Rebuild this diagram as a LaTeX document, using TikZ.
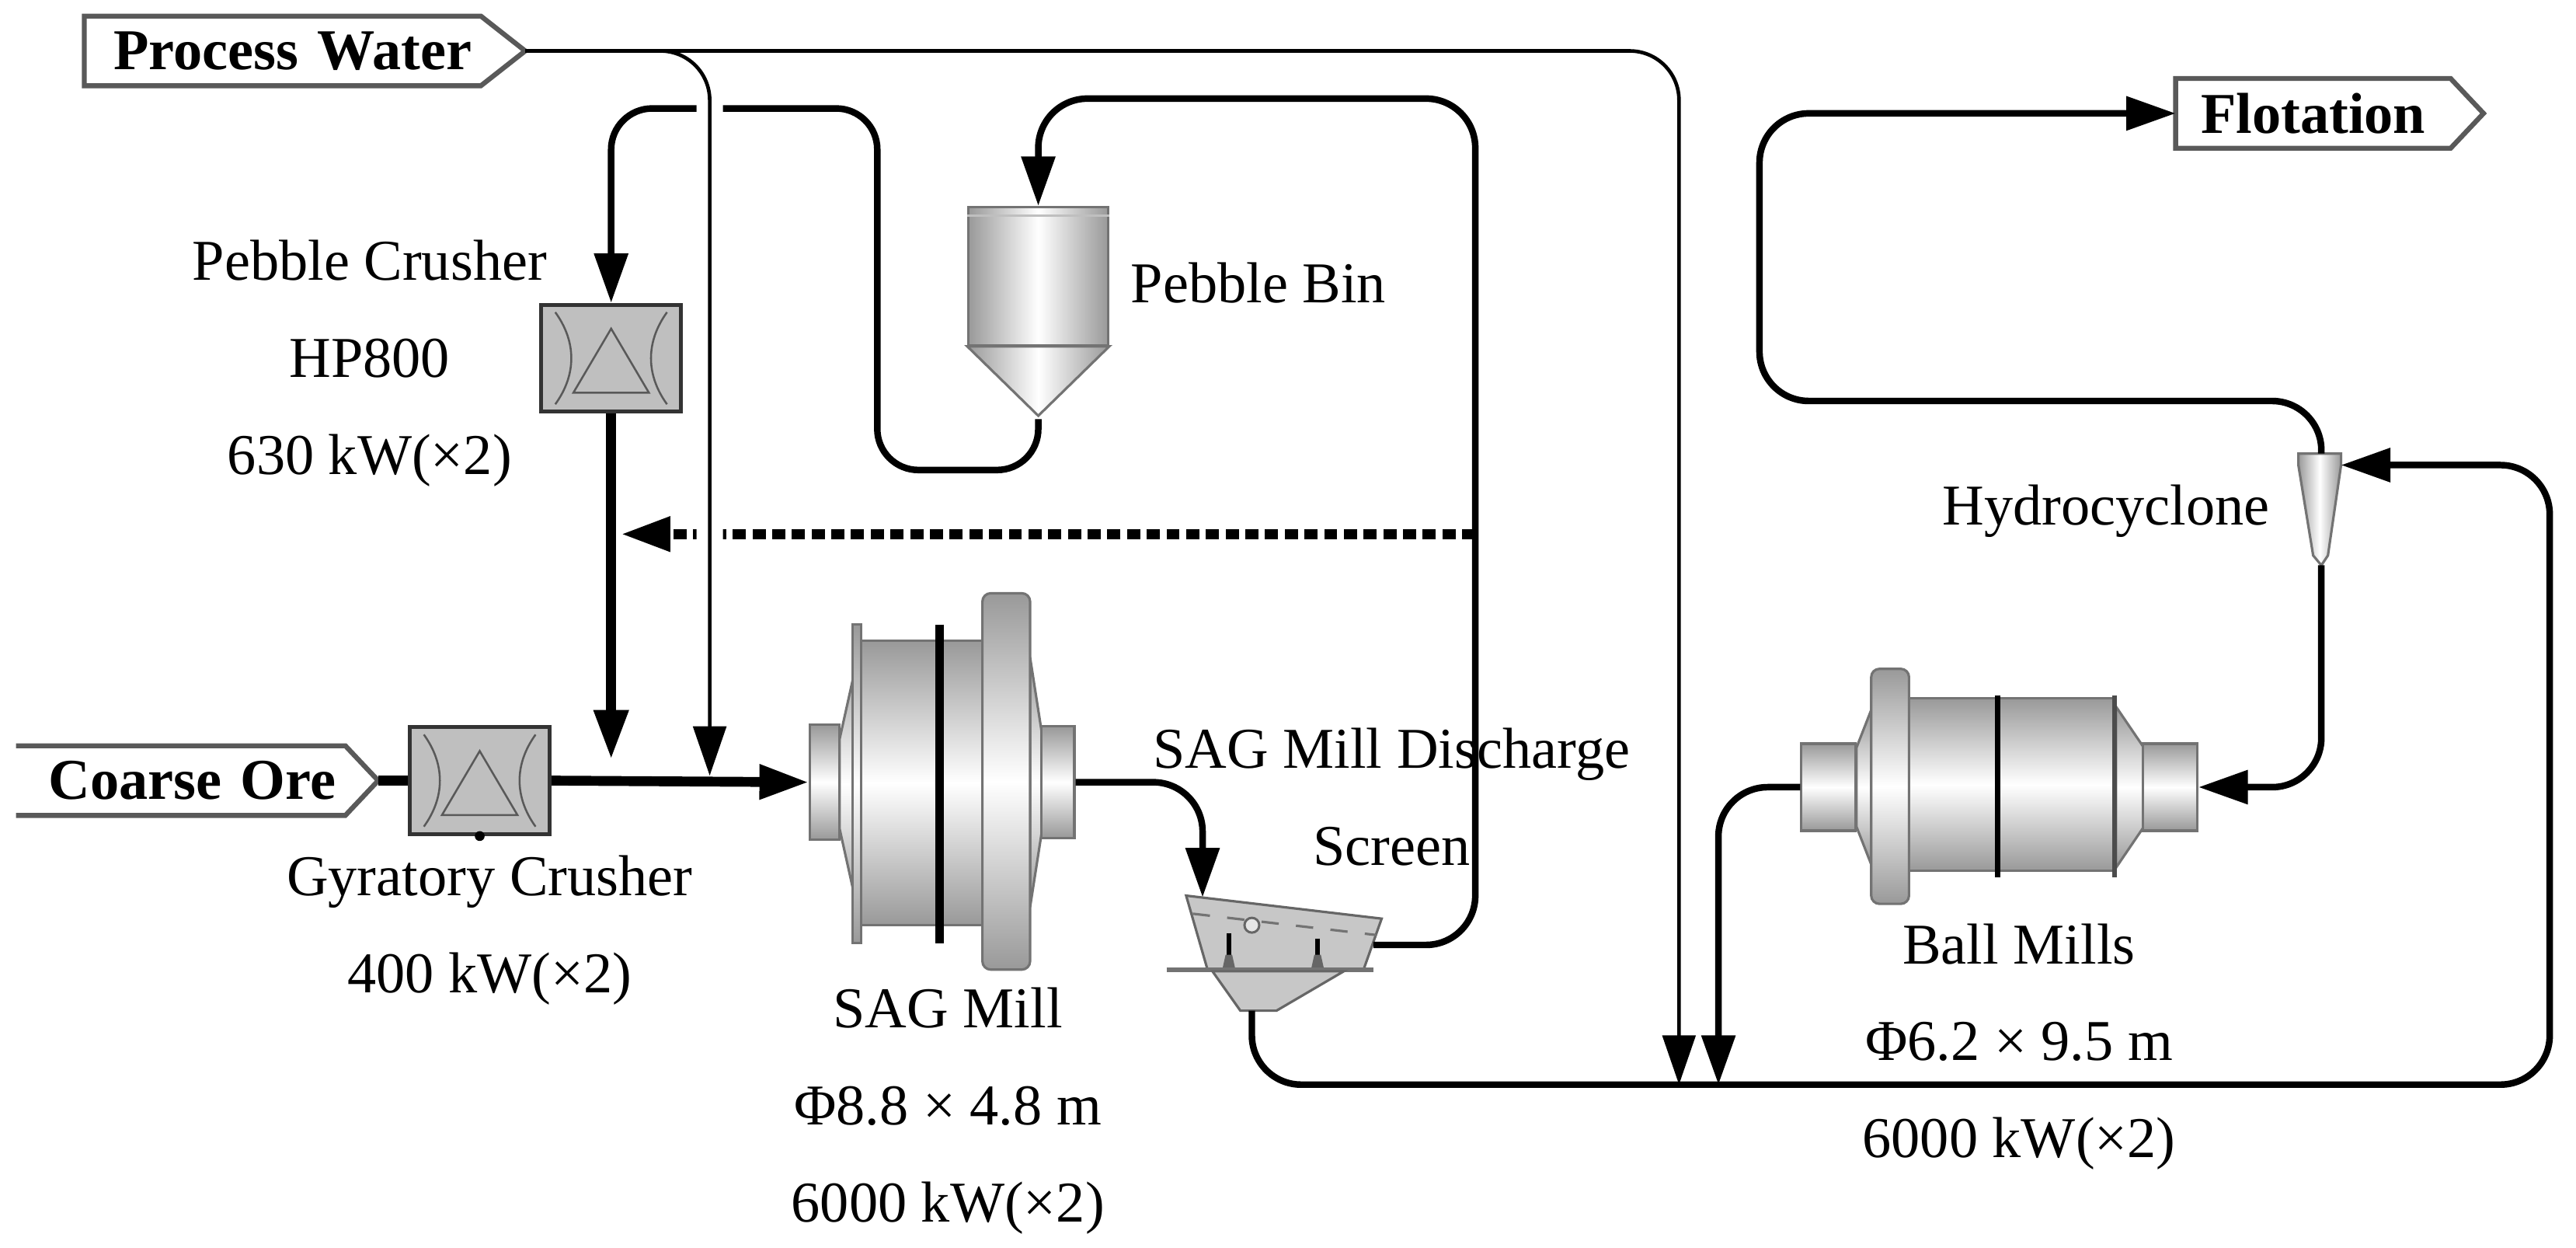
\documentclass[tikz,border=0pt]{standalone}
\usepackage{fontspec}
\setmainfont{Liberation Serif}
\usetikzlibrary{arrows.meta}
\begin{document}
\begin{tikzpicture}[>={Triangle[length=3mm,width=2mm]},x=0.1mm,y=-0.1mm,
	water/.style={line width=0.22mm},
	slurry/.style={line width=0.4mm},
	ore/.style={line width=0.6mm},
	lab/.style={font=\fontsize{10}{16.8}\selectfont,align=center,inner sep=0},
	tagbox/.style={font=\bfseries,minimum height=4.1mm,inner xsep=0.5mm,inner ysep=0},
	tagline/.style={draw=black!65,line width=0.3mm},
	cylh/.style={draw=black!55,line width=0.15mm,top color=black!40,bottom color=black!40,middle color=white},
	cylv/.style={draw=black!55,line width=0.15mm,left color=black!40,right color=black!40,middle color=white},
	crusher/.style={draw=black!80,line width=0.25mm,fill=black!25,minimum width=8.5mm,minimum height=6.5mm,inner sep=0,
		path picture={\begin{scope}[shift={(path picture bounding box.center)}]
			\draw[black!65,line width=0.12mm] (-34,-28) .. controls (-21,-10) and (-21,10) .. (-34,28)
				(34,-28) .. controls (21,-10) and (21,10) .. (34,28)
				(0,-18) -- (-23,21) -- (23,21) -- cycle;
		\end{scope}}}]
	\useasboundingbox (0,0) rectangle (1568,759);
	% feed tags
	\node[tagbox,text width=23mm,align=right] (pw) at (172,31) {Process Water};
	\draw[tagline] (pw.north west) -- (pw.north east) -- ([xshift=2.7mm]pw.east) -- (pw.south east) -- (pw.south west) -- cycle;
	\coordinate (pwtip) at ([xshift=2.7mm]pw.east);
	\node[tagbox,text width=18.9mm,align=right] (co) at (110,475) {Coarse Ore};
	\draw[tagline] (co.north west) -- (co.north east) -- ([xshift=2mm]co.east) -- (co.south east) -- (co.south west);
	\coordinate (cotip) at ([xshift=2mm]co.east);
	\node[tagbox,minimum width=16.6mm] (flo) at (1408,69) {Flotation};
	\draw[tagline] (flo.north west) -- (flo.north east) -- ([xshift=2mm]flo.east) -- (flo.south east) -- (flo.south west) -- cycle;
	% crushers
	\node[crusher] (pcr) at (372,218) {};
	\node[crusher] (gcr) at (292,475) {};
	\fill (gcr.south) circle (0.3mm);
	% pebble bin
	\node[cylv,minimum width=8.5mm,minimum height=8.4mm,inner sep=0] (bin) at (632,168) {};
	\draw[cylv] (bin.south west) -- (632,253) -- (bin.south east) -- cycle;
	\draw[black!25] ([yshift=-0.6mm]bin.north west) -- ([yshift=-0.6mm]bin.north east);
	\coordinate (bintip) at (632,255);
	% SAG mill
	\node[cylh,minimum width=1.8mm,minimum height=7mm,inner sep=0] (sagin) at (502,476) {};
	\draw[cylh] (511,450) -- (523,396) -- (523,558) -- (511,504) -- cycle;
	\draw[cylh] (523,390) rectangle (598,563);
	\draw[cylh] (519,380) rectangle (524,574);
	\draw[line width=0.5mm] (572,380) -- (572,574);
	\draw[cylh] (627,400) -- (634,445) -- (634,507) -- (627,552) -- cycle;
	\draw[cylh,rounded corners=0.5mm] (598,361) rectangle (627,590);
	\node[cylh,minimum width=2mm,minimum height=6.8mm,inner sep=0] (sagout) at (644,476) {};
	% discharge screen
	\draw[fill=black!22,draw=black!60,line width=0.15mm] (722,545) -- (841,559) -- (830,590) -- (735,590) -- cycle;
	\draw[black!55,dashed,line width=0.15mm] (726,556) -- (838,569);
	\draw[black!60,fill=black!10] (762,563) circle (0.45mm);
	\draw[line width=0.3mm] (748,568) -- (748,582) (802,571) -- (802,582);
	\fill[black!60] (744,590) -- (746,581) -- (750,581) -- (752,590) -- cycle;
	\fill[black!60] (798,590) -- (800,581) -- (804,581) -- (806,590) -- cycle;
	\draw[black!55,line width=0.3mm] (710,590) -- (836,590);
	\draw[fill=black!22,draw=black!60,line width=0.15mm] (738,591) -- (818,591) -- (777,615) -- (755,615) -- cycle;
	\coordinate (scrin) at (732,546);
	\coordinate (scrover) at (836,575);
	\coordinate (scrunder) at (762,615);
	% hydrocyclone
	\draw[cylv] (1399,276) -- (1425,276) -- (1425,283) -- (1417,338) -- (1413,344) -- (1408,338) -- (1399,283) -- cycle;
	\coordinate (cyctop) at (1413,276);
	\coordinate (cycbot) at (1413,344);
	\coordinate (cycin) at (1425,283);
	% ball mill
	\node[cylh,minimum width=3.3mm,minimum height=5.3mm,inner sep=0] (bmout) at (1113,479) {};
	\draw[cylh] (1130,455) -- (1139,432) -- (1139,526) -- (1130,503) -- cycle;
	\draw[cylh] (1162,425) rectangle (1288,530);
	\draw[cylh] (1288,430) -- (1305,455) -- (1305,503) -- (1288,528) -- cycle;
	\draw[cylh,rounded corners=0.5mm] (1139,407) rectangle (1162,550);
	\draw[line width=0.35mm] (1216,423) -- (1216,534);
	\draw[black!70,line width=0.3mm] (1287,423) -- (1287,534);
	\node[cylh,minimum width=3.3mm,minimum height=5.3mm,inner sep=0] (bmin) at (1321,479) {};
	% flow lines
	\coordinate (pbtop) at (372,66);
	\coordinate (ovtop) at (898,60);
	\coordinate (dashs) at (898,325);
	\coordinate (dashe) at (378,325);
	\coordinate (feedp) at (372,462);
	\coordinate (pwj) at (401,31);
	\coordinate (feedw) at (432,472);
	\coordinate (pwend) at (1022,660);
	\coordinate (loopc) at (1552,660);
	\coordinate (ofl) at (1071,244);
	\coordinate (bmj) at (1046,660);
	\draw[ore] (cotip) -- (gcr.west);
	\draw[ore,->] (gcr.east) -- (sagin.west);
	\draw[ore,->] (pcr.south) -- (feedp);
	\draw[slurry,->,rounded corners=2.5mm] (bintip) |- (534,286) |- (pbtop) -- (pcr.north);
	\draw[slurry,->,rounded corners=3mm] (scrover) -| (ovtop) -| (bin.north);
	\draw[ore,->,dash pattern=on 0.8mm off 0.4mm] (dashs) -- (dashe);
	\draw[water,->,rounded corners=3mm,preaction={draw=white,line width=1.6mm,-,shorten >=6mm}] (pwj) -| (feedw);
	\draw[water,->,rounded corners=3mm] (pwtip) -| (pwend);
	\draw[slurry,->,rounded corners=3mm] (sagout.east) -| (scrin);
	\draw[slurry,->,rounded corners=3mm] (scrunder) |- (loopc) |- (cycin);
	\draw[slurry,->,rounded corners=3mm] (cyctop) |- (ofl) |- (flo.west);
	\draw[slurry,->,rounded corners=3mm] (cycbot) |- (bmin.east);
	\draw[slurry,->,rounded corners=3mm] (bmout.west) -| (bmj);
	% labels
	\node[lab] (pcrlab) at (225,221) {Pebble Crusher\\HP800\\630 kW(×2)};
	\node[lab] (gcrlab) at (298,566) {Gyratory Crusher\\400 kW(×2)};
	\node[lab] (binlab) at (766,172) {Pebble Bin};
	\node[lab] (saglab) at (577,676) {SAG Mill\\Φ8.8 × 4.8 m\\6000 kW(×2)};
	\node[lab] (scrlab) at (847,485) {SAG Mill Discharge\\Screen};
	\node[lab] (cyclab) at (1282,311) {Hydrocyclone};
	\node[lab] (bmlab) at (1229,637) {Ball Mills\\Φ6.2 × 9.5 m\\6000 kW(×2)};
\end{tikzpicture}
\end{document}
